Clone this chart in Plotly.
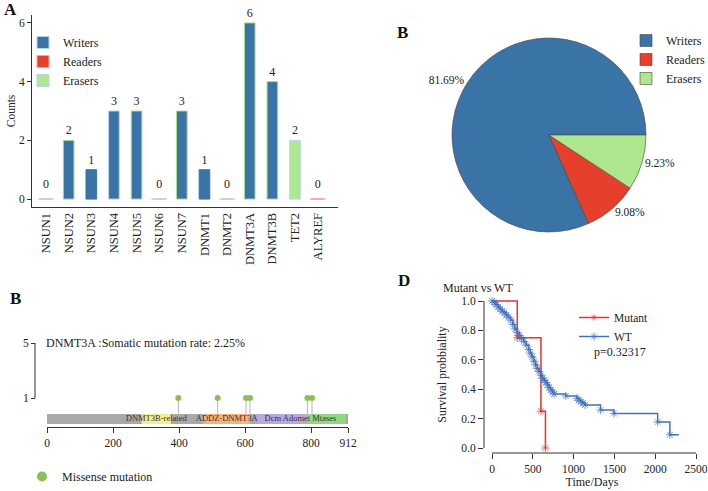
import plotly.graph_objects as go

W, H = 708, 491
FONT = "Liberation Serif"

def px(x):
    return x / W

def py(y):
    return 1 - y / H

# ---------------- Panel A data ----------------
genes = ["NSUN1", "NSUN2", "NSUN3", "NSUN4", "NSUN5", "NSUN6", "NSUN7",
         "DNMT1", "DNMT2", "DNMT3A", "DNMT3B", "TET2", "ALYREF"]
gene_counts = [0, 2, 1, 3, 3, 0, 3, 1, 0, 6, 4, 2, 0]
gene_role = ["Writers", "Writers", "Writers", "Writers", "Writers", "Writers", "Writers",
             "Writers", "Writers", "Writers", "Writers", "Erasers", "Readers"]
count_ticks = [0, 2, 4, 6]

# ---------------- Panel B (pie) data ----------------
roles = ["Writers", "Readers", "Erasers"]
role_pct = [81.69, 9.08, 9.23]

# ---------------- Panel C (lollipop) data ----------------
protein_length = 912
domain_names = ["DNMT3B-related", "ADDZ-DNMT3A", "Dcm Adomet Mtases", ""]
domain_start = [287, 474, 630, 791]
domain_end = [375, 615, 906, 906]
mutation_pos = [398, 517, 603, 615, 789, 803]
mutation_count = [1, 1, 1, 1, 1, 1]
protein_ticks = [0, 200, 400, 600, 800, 912]
mutation_rate_text = "DNMT3A :Somatic mutation rate: 2.25%"

# ---------------- Panel D (survival) data ----------------
mutant_time = [0, 310, 600, 655]
mutant_surv = [1.0, 0.75, 0.25, 0.0]
wt_time = [0, 25, 50, 75, 100, 125, 150, 175, 200, 230, 255, 280, 310, 335, 360,
           390, 420, 450, 470, 490, 515, 535, 555, 575, 600, 620, 640, 660, 680,
           700, 720, 745, 760, 905, 1040, 1065, 1090, 1115, 1140, 1330, 1495,
           2030, 2180, 2290]
wt_surv = [1.0, 0.99, 0.975, 0.96, 0.945, 0.93, 0.92, 0.905, 0.89, 0.87, 0.84,
           0.81, 0.785, 0.765, 0.745, 0.725, 0.70, 0.67, 0.645, 0.62, 0.59, 0.565,
           0.54, 0.52, 0.495, 0.475, 0.46, 0.445, 0.43, 0.41, 0.395, 0.38, 0.367,
           0.354, 0.338, 0.325, 0.315, 0.305, 0.293, 0.259, 0.235, 0.177, 0.09, 0.09]
time_ticks = [0, 500, 1000, 1500, 2000, 2500]
surv_ticks = [0.0, 0.2, 0.4, 0.6, 0.8, 1.0]
p_value_text = "p=0.32317"

# ---------------- styles ----------------
role_colors = {"Writers": "#3a73a6", "Readers": "#e6402c", "Erasers": "#aee88e"}
outline_colors = ["#b9d3ea", "#a6df86", "#3a73a6", "#b9d3ea", "#a6df86", "#b9d3ea",
                  "#a6df86", "#3a73a6", "#b9d3ea", "#a6df86", "#a6df86", "#b9d3ea",
                  "#f0a9a0"]
domain_colors = ["#f6ef90", "#f8b27c", "#baa7dd", "#92d882"]

fig = go.Figure()

# ---- Panel A bars ----
for role in roles:
    xs = [g for g, r in zip(genes, gene_role) if r == role]
    ys = [c for r, c in zip(gene_role, gene_counts) if r == role]
    lc = [o for r, o in zip(gene_role, outline_colors) if r == role]
    fig.add_trace(go.Bar(
        x=xs, y=ys, name=role, width=0.47,
        marker=dict(color=role_colors[role], line=dict(color=lc, width=1)),
        text=[str(v) if v > 0 else "" for v in ys], textposition="outside", cliponaxis=False,
        textfont=dict(family=FONT, size=12, color="#222"),
        xaxis="x", yaxis="y", legend="legend", showlegend=True,
    ))
# zero-count genes drawn as a flat line with their label
zx = [g for g, c in zip(genes, gene_counts) if c == 0]
zy = [c for c in gene_counts if c == 0]
zc = [o for o, c in zip(outline_colors, gene_counts) if c == 0]
fig.add_trace(go.Scatter(
    x=zx, y=zy, mode="markers+text", text=[str(v) for v in zy], textposition="top center",
    textfont=dict(family=FONT, size=12, color="#222"),
    marker=dict(symbol="line-ew", size=11, line=dict(color=zc, width=1.5)),
    xaxis="x", yaxis="y", showlegend=False, cliponaxis=False, hoverinfo="skip",
))

# ---- Panel B pie ----
pie_rotation = 90 + 360 * (sum(role_pct) - role_pct[0]) / sum(role_pct)
fig.add_trace(go.Pie(
    labels=roles, values=role_pct, sort=False, direction="counterclockwise",
    rotation=pie_rotation, textposition="outside", texttemplate="%{value:.2f}%",
    textfont=dict(family=FONT, size=11.5, color="#222"),
    marker=dict(colors=[role_colors[r] for r in roles], line=dict(color="#444", width=0.6)),
    domain=dict(x=[px(452), px(646)], y=[py(232), py(38)]),
    legend="legend2", showlegend=True, hoverinfo="label+percent",
))

# ---- Panel C lollipop ----
BACK_Y = -0.527
BACK_W = 0.727
fig.add_trace(go.Bar(
    x=[protein_length], base=[0], y=[BACK_Y], orientation="h", width=BACK_W,
    marker=dict(color="#a9a9a9", line=dict(width=0)),
    xaxis="x2", yaxis="y2", showlegend=False, hoverinfo="skip",
))
for name, s, e, col in zip(domain_names, domain_start, domain_end, domain_colors):
    fig.add_trace(go.Bar(
        x=[e - s], base=[s], y=[BACK_Y], orientation="h", width=BACK_W,
        marker=dict(color=col, line=dict(width=0)),
        xaxis="x2", yaxis="y2", showlegend=False, hoverinfo="skip",
    ))
fig.add_trace(go.Scatter(
    x=[(s + e) / 2 for s, e in zip(domain_start, domain_end)], y=[BACK_Y] * len(domain_names),
    mode="text", text=domain_names, textfont=dict(family=FONT, size=8.5, color="#333"),
    xaxis="x2", yaxis="y2", showlegend=False, cliponaxis=False, hoverinfo="skip",
))
STEM_BASE = -0.16
fig.add_trace(go.Scatter(
    x=mutation_pos, y=mutation_count, mode="markers",
    marker=dict(color="#8dbf55", size=6),
    error_y=dict(type="data", symmetric=False, array=[0] * len(mutation_count),
                 arrayminus=[c - STEM_BASE for c in mutation_count],
                 color="#b5b5b5", thickness=1, width=0),
    xaxis="x2", yaxis="y2", showlegend=False, cliponaxis=False,
))
fig.add_trace(go.Scatter(
    x=[None], y=[None], mode="markers", name="Missense mutation",
    marker=dict(color="#8dbf55", size=10),
    xaxis="x2", yaxis="y2", legend="legend4", showlegend=True,
))

# ---- Panel D survival ----
fig.add_trace(go.Scatter(
    x=mutant_time, y=mutant_surv, mode="lines+markers", name="Mutant",
    line=dict(color="#e8332a", width=1.5, shape="hv"),
    marker=dict(symbol="asterisk-open", size=[0] + [7] * (len(mutant_time) - 1),
                line=dict(color="#f07878", width=1)),
    xaxis="x3", yaxis="y3", legend="legend3", cliponaxis=False,
))
fig.add_trace(go.Scatter(
    x=wt_time, y=wt_surv, mode="lines+markers", name="WT",
    line=dict(color="#4570c1", width=1.5, shape="hv"),
    marker=dict(symbol="asterisk-open", size=[7] * (len(wt_time) - 1) + [0],
                line=dict(color="#6f8fd8", width=1)),
    xaxis="x3", yaxis="y3", legend="legend3", cliponaxis=False,
))

axis_common = dict(showgrid=False, zeroline=False, automargin=False,
                   tickfont=dict(family=FONT, size=11.5, color="#222"),
                   linecolor="#333", tickcolor="#333")

fig.update_layout(
    width=W, height=H, margin=dict(l=0, r=0, t=0, b=0, autoexpand=False),
    paper_bgcolor="white", plot_bgcolor="white", barmode="overlay",
    font=dict(family=FONT, size=12, color="#222"),
    xaxis=dict(**{**axis_common, "tickfont": dict(family=FONT, size=12.5, color="#222")},
               domain=[px(32), px(338)], type="category",
               categoryorder="array", categoryarray=genes, range=[-0.62, 12.9],
               tickangle=-90, showline=True, ticks="", anchor="y"),
    yaxis=dict(**axis_common, domain=[py(207), py(15)], range=[-0.27, 6.27],
               tickvals=count_ticks, ticks="outside", ticklen=4, showline=True, anchor="x",
               title=dict(text="Counts", font=dict(family=FONT, size=11.5), standoff=0)),
    xaxis2=dict(**axis_common, domain=[px(47), px(348)], range=[0, protein_length],
                tickvals=protein_ticks, ticks="outside", ticklen=5, showline=True, anchor="y2"),
    yaxis2=dict(**axis_common, domain=[py(427), py(340)], range=[-1.109, 5.218],
                tickvals=[1, 5], ticks="outside", ticklen=4, showline=False,
                anchor="free", position=px(35)),
    xaxis3=dict(**axis_common, domain=[px(484), px(700)], range=[-98, 2549],
                tickvals=time_ticks, ticks="outside", ticklen=5, showline=False, anchor="y3",
                title=dict(text="Time/Days", font=dict(family=FONT, size=12), standoff=2)),
    yaxis3=dict(**axis_common, domain=[py(453), py(296)], range=[-0.034, 1.034],
                tickvals=surv_ticks, tickformat=".1f", ticks="outside", ticklen=5,
                showline=False, anchor="x3",
                title=dict(text="Survival probbiality", font=dict(family=FONT, size=12), standoff=12)),
    legend=dict(x=px(23), y=py(28), xanchor="left", yanchor="top", bgcolor="rgba(0,0,0,0)",
                font=dict(family=FONT, size=12), traceorder="normal"),
    legend2=dict(x=px(626), y=py(26), xanchor="left", yanchor="top", bgcolor="rgba(0,0,0,0)",
                 font=dict(family=FONT, size=12)),
    legend3=dict(x=px(574), y=py(303), xanchor="left", yanchor="top", bgcolor="rgba(0,0,0,0)",
                 font=dict(family=FONT, size=11.5)),
    legend4=dict(x=px(22), y=py(462), xanchor="left", yanchor="top", bgcolor="rgba(0,0,0,0)",
                 font=dict(family=FONT, size=12)),
    shapes=[
        dict(type="line", xref="paper", x0=px(35), x1=px(35), yref="y2", y0=1, y1=5,
             line=dict(color="#333", width=1)),
        dict(type="line", xref="x3", x0=0, x1=2500, yref="y3 domain", y0=0, y1=0,
             line=dict(color="#333", width=1)),
        dict(type="line", xref="x3 domain", x0=0, x1=0, yref="y3", y0=0, y1=1,
             line=dict(color="#333", width=1)),
    ],
    annotations=[
        dict(text="<b>A</b>", x=px(2), y=py(10), xref="paper", yref="paper", xanchor="left",
             yanchor="middle", showarrow=False, font=dict(family=FONT, size=17, color="#111")),
        dict(text="<b>B</b>", x=px(395), y=py(33), xref="paper", yref="paper", xanchor="left",
             yanchor="middle", showarrow=False, font=dict(family=FONT, size=17, color="#111")),
        dict(text="<b>B</b>", x=px(8), y=py(298), xref="paper", yref="paper", xanchor="left",
             yanchor="middle", showarrow=False, font=dict(family=FONT, size=17, color="#111")),
        dict(text="<b>D</b>", x=px(396), y=py(280), xref="paper", yref="paper", xanchor="left",
             yanchor="middle", showarrow=False, font=dict(family=FONT, size=17, color="#111")),
        dict(text=mutation_rate_text, x=0, y=5, xshift=-3, xref="x2", yref="y2", xanchor="left",
             yanchor="middle", showarrow=False, font=dict(family=FONT, size=12, color="#222")),
        dict(text="Mutant vs WT", x=px(478), y=py(288), xref="paper", yref="paper",
             xanchor="center", yanchor="middle", showarrow=False,
             font=dict(family=FONT, size=12, color="#222")),
        dict(text=p_value_text, x=px(620), y=py(352), xref="paper", yref="paper",
             xanchor="center", yanchor="middle", showarrow=False,
             font=dict(family=FONT, size=12, color="#222")),
    ],
)

fig.write_html("out.html", config={"displayModeBar": False},
               post_script="document.body.style.margin='0';document.body.style.overflow='hidden';")
